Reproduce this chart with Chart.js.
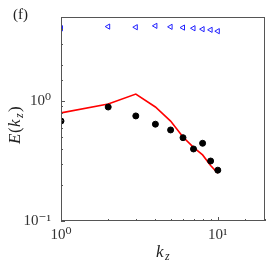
<!DOCTYPE html>
<html>
<head>
<meta charset="utf-8">
<script src="https://cdn.jsdelivr.net/npm/chart.js@4"></script>
<style>
  html, body { margin: 0; padding: 0; background: #fff; }
  #wrap { width: 272px; height: 266px; }
</style>
</head>
<body>
<div id="wrap"><canvas id="spectrum"></canvas></div>
<script>
// kz modes and spectra
var kz = [1, 2, 3, 4, 5, 6, 7, 8, 9, 10];
var triangles = [4.03, 4.16, 4.11, 4.22, 4.14, 4.08, 4.03, 3.96, 3.91, 3.81];
var dots = [0.68, 0.89, 0.75, 0.64, 0.573, 0.494, 0.398, 0.444, 0.316, 0.265];
var redLine = [0.795, 0.944, 1.14, 0.89, 0.68, 0.50, 0.41, 0.355, 0.29, 0.25];
var xTickLabels = { 1: '10⁰', 10: '10¹' };
var yTickLabels = { 0.1: '10⁻¹', 1: '10⁰' };

function pts(ys) {
    return kz.map(function (k, i) { return { x: k, y: ys[i] }; });
}

var serif = '"Liberation Serif", "DejaVu Serif", serif';

// frame, inward ticks and math style labels
var decor = {
    id: 'decor',
    afterDraw: function (chart) {
        var ctx = chart.ctx;
        var a = chart.chartArea;
        ctx.save();
        ctx.strokeStyle = '#555';
        ctx.lineWidth = 1;
        ctx.strokeRect(a.left + 0.5, a.top + 0.5, a.right - a.left - 1, a.bottom - a.top - 1);

        var xs = chart.scales.x, ys = chart.scales.y;
        ctx.beginPath();
        xs.ticks.forEach(function (t) {
            var px = Math.round(xs.getPixelForValue(t.value)) + 0.5;
            var len = xTickLabels[t.value] ? 4 : 2;
            ctx.moveTo(px, a.bottom);
            ctx.lineTo(px, a.bottom - len);
        });
        ys.ticks.forEach(function (t) {
            var py = Math.round(ys.getPixelForValue(t.value)) + 0.5;
            var len = yTickLabels[t.value] ? 4 : 2;
            ctx.moveTo(a.left, py);
            ctx.lineTo(a.left + len, py);
        });
        ctx.stroke();

        ctx.fillStyle = '#222';
        ctx.textBaseline = 'alphabetic';
        // x label k_z
        ctx.font = 'italic 17px ' + serif;
        var cx = (a.left + a.right) / 2 - 5;
        ctx.fillText('k', cx - 2, 257);
        ctx.font = 'italic 12px ' + serif;
        ctx.fillText('z', cx + 7, 260);

        // y label E(k_z)
        ctx.translate(20, (a.top + a.bottom) / 2);
        ctx.rotate(-Math.PI / 2);
        ctx.font = 'italic 17px ' + serif;
        var x0 = -25;
        ctx.fillText('E', x0, 0);
        ctx.font = '17px ' + serif;
        ctx.fillText('(', x0 + 11, 0);
        ctx.font = 'italic 17px ' + serif;
        ctx.fillText('k', x0 + 17, 0);
        ctx.font = 'italic 12px ' + serif;
        ctx.fillText('z', x0 + 26, 3);
        ctx.font = '17px ' + serif;
        ctx.fillText(')', x0 + 32, 0);
        ctx.restore();

        ctx.save();
        ctx.fillStyle = '#222';
        ctx.font = '15px ' + serif;
        ctx.fillText('(f)', 13, 19);
        ctx.restore();
    }
};

new Chart(document.getElementById('spectrum'), {
    type: 'scatter',
    data: {
        datasets: [{
            label: 'line',
            type: 'line',
            data: pts(redLine),
            borderColor: '#ff0000',
            borderWidth: 1.6,
            pointRadius: 0,
            fill: false,
            order: 3
        }, {
            label: 'dots',
            data: pts(dots),
            backgroundColor: '#000',
            borderColor: '#000',
            pointRadius: 3,
            order: 2
        }, {
            label: 'triangles',
            data: pts(triangles),
            pointStyle: 'triangle',
            rotation: -90,
            backgroundColor: 'rgba(0,0,0,0)',
            borderColor: '#2222ff',
            borderWidth: 1,
            pointRadius: 3,
            order: 1
        }]
    },
    options: {
        responsive: true,
        maintainAspectRatio: false,
        animation: false,
        layout: { padding: { top: 17, right: 7, left: 0, bottom: 0 } },
        plugins: {
            legend: { display: false },
            tooltip: { enabled: false }
        },
        scales: {
            x: {
                type: 'logarithmic',
                min: 1,
                max: 20,
                grid: { display: false },
                border: { display: false },
                ticks: {
                    autoSkip: false,
                    maxRotation: 0,
                    padding: -3,
                    color: '#333',
                    font: { family: serif, size: 15 },
                    callback: function (v) { return xTickLabels[v] || ''; }
                },
                afterFit: function (s) { s.height = 45; }
            },
            y: {
                type: 'logarithmic',
                min: 0.1,
                max: 5,
                grid: { display: false },
                border: { display: false },
                ticks: {
                    autoSkip: false,
                    padding: 2,
                    color: '#333',
                    font: { family: serif, size: 15 },
                    callback: function (v) { return yTickLabels[v] || ''; }
                },
                afterFit: function (s) { s.width = 61; }
            }
        }
    },
    plugins: [decor]
});
</script>
</body>
</html>
